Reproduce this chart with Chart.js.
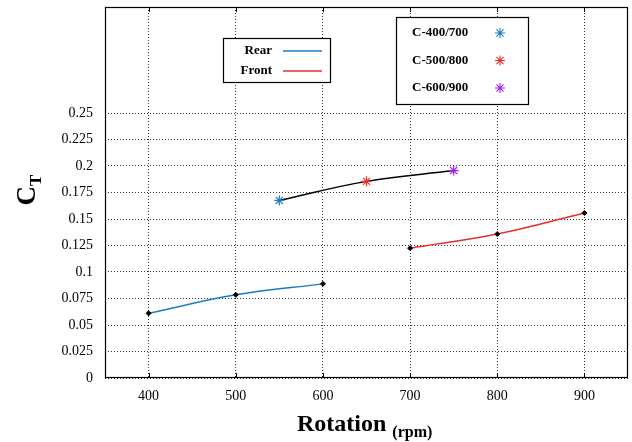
<!DOCTYPE html>
<html>
<head>
<meta charset="utf-8">
<script src="https://cdn.jsdelivr.net/npm/chart.js@4.4.1/dist/chart.umd.min.js"></script>
<style>
  html, body { margin: 0; padding: 0; background: #fff; }
  #wrap { width: 632px; height: 442px; }
</style>
</head>
<body>
<div id="wrap"><canvas id="graph01"></canvas></div>
<script>
const rearRpm = [400, 500, 600];
const rearCt = [0.061, 0.0785, 0.0888];
const frontRpm = [700, 800, 900];
const frontCt = [0.1225, 0.1358, 0.1557];
const mixRpm = [550, 650, 750];
const mixCt = [0.1675, 0.1855, 0.1957];
const mixLabels = ["C-400/700", "C-500/800", "C-600/900"];
const mixColors = ["#1a7cc4", "#ee2c2c", "#a020f0"];
const xTicks = [400, 500, 600, 700, 800, 900];

const blue = "#1a7cc4";
const red = "#ee2c2c";
const serif = "'Liberation Serif', 'Times New Roman', serif";

Chart.defaults.font.family = serif;
Chart.defaults.color = "#000";

function pts(xs, ys) {
  return xs.map((x, i) => ({ x: x, y: ys[i] }));
}

// boxes, frame and titles drawn on top of the chart
const extras = {
  id: "extras",
  afterDraw(chart) {
    const ctx = chart.ctx;
    const a = chart.chartArea;
    const xs = chart.scales.x;
    ctx.save();

    // frame
    ctx.strokeStyle = "#000";
    ctx.lineWidth = 1.2;
    ctx.strokeRect(a.left + 0.5, a.top + 0.5, a.right - a.left - 1, a.bottom - a.top - 1);

    // small solid ticks at top and bottom
    ctx.lineWidth = 1;
    xTicks.forEach((v) => {
      const px = Math.round(xs.getPixelForValue(v)) + 0.5;
      ctx.beginPath();
      ctx.moveTo(px, a.bottom);
      ctx.lineTo(px, a.bottom - 5);
      ctx.moveTo(px, a.top);
      ctx.lineTo(px, a.top + 5);
      ctx.stroke();
    });

    // y title C_T
    ctx.save();
    ctx.translate(35, 190);
    ctx.rotate(-Math.PI / 2);
    ctx.fillStyle = "#000";
    ctx.textBaseline = "alphabetic";
    ctx.font = "bold 27px " + serif;
    ctx.textAlign = "left";
    const cw = ctx.measureText("C").width;
    ctx.font = "bold 17px " + serif;
    const tw = ctx.measureText("T").width;
    const x0 = -(cw + tw) / 2;
    ctx.font = "bold 27px " + serif;
    ctx.fillText("C", x0, 0);
    ctx.font = "bold 17px " + serif;
    ctx.fillText("T", x0 + cw, 6);
    ctx.restore();

    // x title Rotation (rpm)
    ctx.fillStyle = "#000";
    ctx.textAlign = "left";
    ctx.font = "bold 24px " + serif;
    ctx.fillText("Rotation", 297, 431);
    const rw = ctx.measureText("Rotation ").width;
    ctx.font = "bold 16px " + serif;
    ctx.fillText("(rpm)", 297 + rw, 437);

    // legend box 1
    ctx.fillStyle = "#fff";
    ctx.fillRect(223, 38, 107, 44);
    ctx.strokeStyle = "#000";
    ctx.lineWidth = 1.2;
    ctx.strokeRect(223.5, 38.5, 107, 44);
    ctx.font = "bold 13px " + serif;
    ctx.textAlign = "right";
    ctx.textBaseline = "middle";
    const lines = [["Rear", blue, 51], ["Front", red, 71]];
    lines.forEach((l) => {
      ctx.fillStyle = "#000";
      ctx.fillText(l[0], 272, l[2]);
      ctx.strokeStyle = l[1];
      ctx.lineWidth = 1.5;
      ctx.beginPath();
      ctx.moveTo(283, l[2]);
      ctx.lineTo(322, l[2]);
      ctx.stroke();
    });

    // legend box 2
    ctx.fillStyle = "#fff";
    ctx.fillRect(396, 17, 132, 87);
    ctx.strokeStyle = "#000";
    ctx.lineWidth = 1.2;
    ctx.strokeRect(396.5, 17.5, 132, 87);
    ctx.textAlign = "left";
    mixLabels.forEach((lab, i) => {
      const yy = 33 + i * 27.5;
      ctx.fillStyle = "#000";
      ctx.fillText(lab, 412, yy);
      ctx.strokeStyle = mixColors[i];
      ctx.lineWidth = 1.1;
      Chart.helpers.drawPoint(ctx, { pointStyle: "star", radius: 5, borderWidth: 1.1 }, 500, yy);
    });

    ctx.restore();
  },
};

const myChart01 = new Chart(document.getElementById("graph01"), {
  type: "line",
  data: {
    datasets: [
      {
        label: "Rear",
        data: pts(rearRpm, rearCt),
        borderColor: blue,
        borderWidth: 1.5,
        tension: 0.4,
        pointStyle: "rectRot",
        pointRadius: 2.5,
        pointBackgroundColor: "#000",
        pointBorderColor: "#000",
        pointBorderWidth: 1,
      },
      {
        label: "Front",
        data: pts(frontRpm, frontCt),
        borderColor: red,
        borderWidth: 1.5,
        tension: 0.4,
        pointStyle: "rectRot",
        pointRadius: 2.5,
        pointBackgroundColor: "#000",
        pointBorderColor: "#000",
        pointBorderWidth: 1,
      },
      {
        label: "C",
        data: pts(mixRpm, mixCt),
        borderColor: "#000",
        borderWidth: 1.5,
        tension: 0.4,
        pointStyle: "star",
        pointRadius: 5,
        pointBorderColor: mixColors,
        pointBorderWidth: 1.2,
      },
    ],
  },
  plugins: [extras],
  options: {
    responsive: true,
    maintainAspectRatio: false,
    animation: false,
    layout: { autoPadding: false, padding: { top: 7, right: 4, left: 0, bottom: 0 } },
    plugins: {
      legend: { display: false },
      tooltip: { enabled: false },
    },
    scales: {
      x: {
        type: "linear",
        min: 350,
        max: 950,
        afterBuildTicks: (scale) => {
          scale.ticks = xTicks.map((v) => ({ value: v }));
        },
        afterFit: (scale) => {
          scale.height = 64;
          scale.paddingLeft = 0;
          scale.paddingRight = 0;
        },
        ticks: {
          font: { size: 14 },
          color: "#000",
          padding: 10,
        },
        grid: {
          color: "#333",
          lineWidth: 1,
          drawTicks: false,
        },
        border: { display: false, dash: [1, 2] },
      },
      y: {
        type: "linear",
        min: 0,
        max: 0.35,
        afterBuildTicks: (scale) => {
          const t = [];
          for (let i = 0; i <= 10; i++) t.push({ value: i * 0.025 });
          scale.ticks = t;
        },
        afterFit: (scale) => {
          scale.width = 105;
          scale.paddingTop = 0;
          scale.paddingBottom = 0;
        },
        ticks: {
          font: { size: 14 },
          color: "#000",
          padding: 12,
          callback: (v) => String(Number(v.toFixed(3))),
        },
        grid: {
          color: "#333",
          lineWidth: 1,
          drawTicks: false,
        },
        border: { display: false, dash: [1, 2] },
      },
    },
  },
});
</script>
</body>
</html>
